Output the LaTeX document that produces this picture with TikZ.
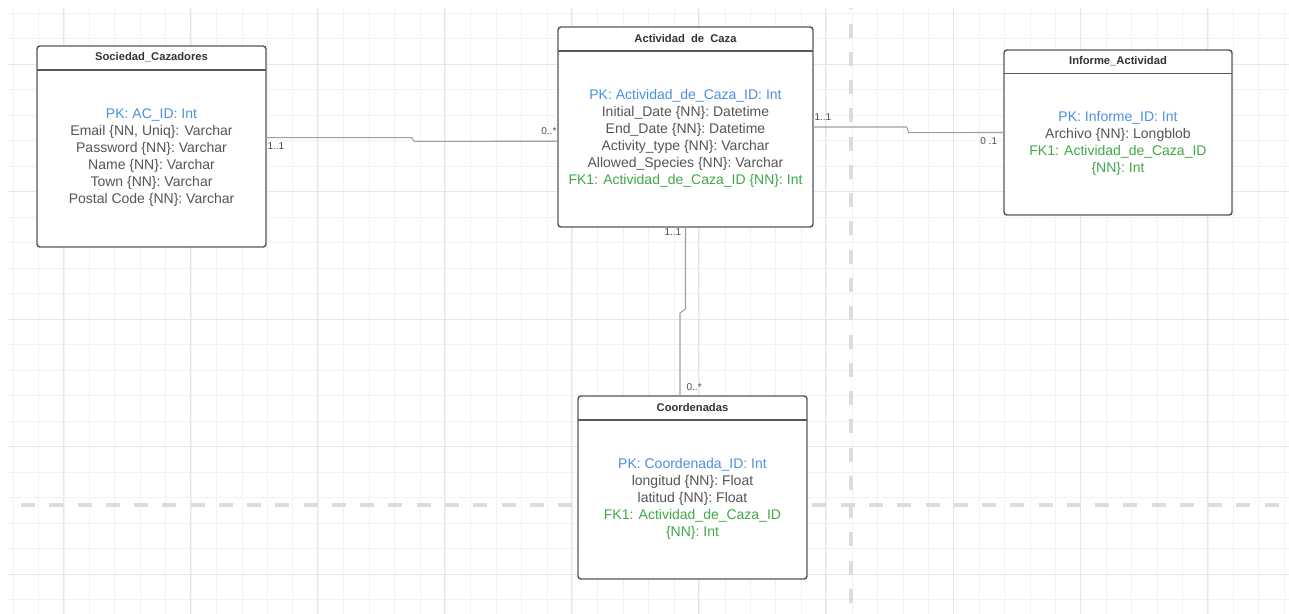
\documentclass[tikz,border=0pt]{standalone}
\usepackage{fontspec}
\setmainfont{Liberation Sans}
\usepackage{xcolor}
\usepackage{tikz}
\usetikzlibrary{positioning, calc}

\definecolor{pkblue}{RGB}{74,144,226}
\definecolor{fkgreen}{RGB}{64,168,72}
\definecolor{attrgray}{RGB}{85,85,85}
\definecolor{boxgray}{RGB}{88,88,88}
\definecolor{gridminor}{RGB}{242,242,242}
\definecolor{gridmajor}{RGB}{230,230,230}
\definecolor{dashgray}{RGB}{220,220,220}
\definecolor{linkgray}{RGB}{160,160,160}

\begin{document}
\begin{tikzpicture}[
        x=0.75pt, y=-0.75pt,
        entity/.style={draw=boxgray, line width=1.1pt, rounded corners=2.2pt, fill=white, inner sep=0pt, outer sep=0pt},
        head/.style={font=\bfseries\fontsize{8.4}{10}\selectfont, text=black!80, inner sep=1pt},
        attr/.style={align=center, font=\fontsize{10.5}{12.75}\selectfont, text=attrgray, inner sep=1pt},
        divider/.style={draw=boxgray, line width=1.1pt},
        link/.style={draw=linkgray, line width=0.8pt},
        card/.style={font=\fontsize{7.5}{9}\selectfont, text=black!70, inner sep=1pt},
        minorline/.style={draw=gridminor, line width=0.75pt},
        majorline/.style={draw=gridmajor, line width=0.75pt},
        guide/.style={draw=dashgray, line width=2.6pt, dash pattern=on 10.5pt off 10.7pt}
    ]
        \useasboundingbox[fill=white] (0,0) rectangle (1289,614);

        % background grid
        \foreach \i in {0,...,50}
            \draw[minorline] ({13.3+25.42*\i},8) -- ++(0,606);
        \foreach \j in {0,...,23}
            \draw[minorline] (8,{13.3+25.5*\j}) -- ++(1281,0);
        \foreach \i in {0,...,9}
            \draw[majorline] ({63.3+127.1*\i},8) -- ++(0,606);
        \foreach \j in {0,...,4}
            \draw[majorline] (8,{64.3+127.5*\j}) -- ++(1281,0);
        \draw[guide, dash phase=9.5pt] (851,8) -- (851,614);
        \draw[guide] (21,505) -- (1289,505);

        % Sociedad_Cazadores
        \node[entity, minimum width=171.75pt, minimum height=150.75pt] (soc) at (151.5,146.5) {};
        \draw[divider] ([yshift=-18pt]soc.north west) -- ([yshift=-18pt]soc.north east);
        \node[head] (socT) at ([yshift=-8.6pt]soc.north) {Sociedad\_Cazadores};
        \node[attr] (socA) at ([yshift=-8.5pt]soc.center) {\textcolor{pkblue}{PK: AC\_ID: Int}\\
            Email \{NN, Uniq\}: Varchar\\ Password \{NN\}: Varchar\\ Name \{NN\}: Varchar\\
            Town \{NN\}: Varchar\\ Postal Code \{NN\}: Varchar};

        % Actividad de Caza
        \node[entity, minimum width=191.25pt, minimum height=150pt] (act) at (685.5,127) {};
        \draw[divider] ([yshift=-18pt]act.north west) -- ([yshift=-18pt]act.north east);
        \node[head] (actT) at ([yshift=-8.6pt]act.north) {Actividad~~de~~Caza};
        \node[attr] (actA) at ([yshift=-8.5pt]act.center) {\textcolor{pkblue}{PK: Actividad\_de\_Caza\_ID: Int}\\
            Initial\_Date \{NN\}: Datetime\\ End\_Date \{NN\}: Datetime\\ Activity\_type \{NN\}: Varchar\\
            Allowed\_Species \{NN\}: Varchar\\ \textcolor{fkgreen}{FK1: Actividad\_de\_Caza\_ID \{NN\}: Int}};

        % Informe_Actividad
        \node[entity, minimum width=171pt, minimum height=123.75pt] (inf) at (1118,132.5) {};
        \draw[divider] ([yshift=-17.5pt]inf.north west) -- ([yshift=-17.5pt]inf.north east);
        \node[head] (infT) at ([yshift=-8.2pt]inf.north) {Informe\_Actividad};
        \node[attr] (infA) at ([yshift=-8.5pt]inf.center) {\textcolor{pkblue}{PK: Informe\_ID: Int}\\
            Archivo \{NN\}: Longblob\\ \textcolor{fkgreen}{FK1: Actividad\_de\_Caza\_ID}\\
            \textcolor{fkgreen}{\{NN\}: Int}};

        % Coordenadas
        \node[entity, minimum width=171.75pt, minimum height=137.25pt] (coo) at (692.5,487.5) {};
        \draw[divider] ([yshift=-18pt]coo.north west) -- ([yshift=-18pt]coo.north east);
        \node[head] (cooT) at ([yshift=-8.6pt]coo.north) {Coordenadas};
        \node[attr] (cooA) at ([yshift=-8.5pt]coo.center) {\textcolor{pkblue}{PK: Coordenada\_ID: Int}\\
            longitud \{NN\}: Float\\ latitud \{NN\}: Float\\
            \textcolor{fkgreen}{FK1: Actividad\_de\_Caza\_ID}\\ \textcolor{fkgreen}{\{NN\}: Int}};

        % relations
        \draw[link] ([yshift=6.6pt]soc.east) -- ++(146,0) -- ++(2,3.6) -- ([yshift=-10.7pt]act.west);
        \draw[link] (act.east) -- ++(93.7,0) -- ++(2,5.6) -- (inf.west);
        \draw[link] (act.south) -- ++(0,82) -- ++(-5.5,4) -- ([xshift=-9.4pt]coo.north);

        % cardinalities
        \node[card, anchor=west] (c1) at (soc.east) {1..1};
        \node[card, anchor=east] (c2) at ([yshift=-2.8pt]act.west) {0..*};
        \node[card, anchor=west] (c3) at ([yshift=7.3pt]act.east) {1..1};
        \node[card, anchor=east] (c4) at ([xshift=-4pt,yshift=-6.4pt]inf.west) {0 .1};
        \node[card, anchor=north east] (c5) at ([xshift=-2pt]act.south) {1..1};
        \node[card, anchor=south west] (c6) at ([xshift=-5.6pt,yshift=2.5pt]coo.north) {0..*};

    \end{tikzpicture}
\end{document}
